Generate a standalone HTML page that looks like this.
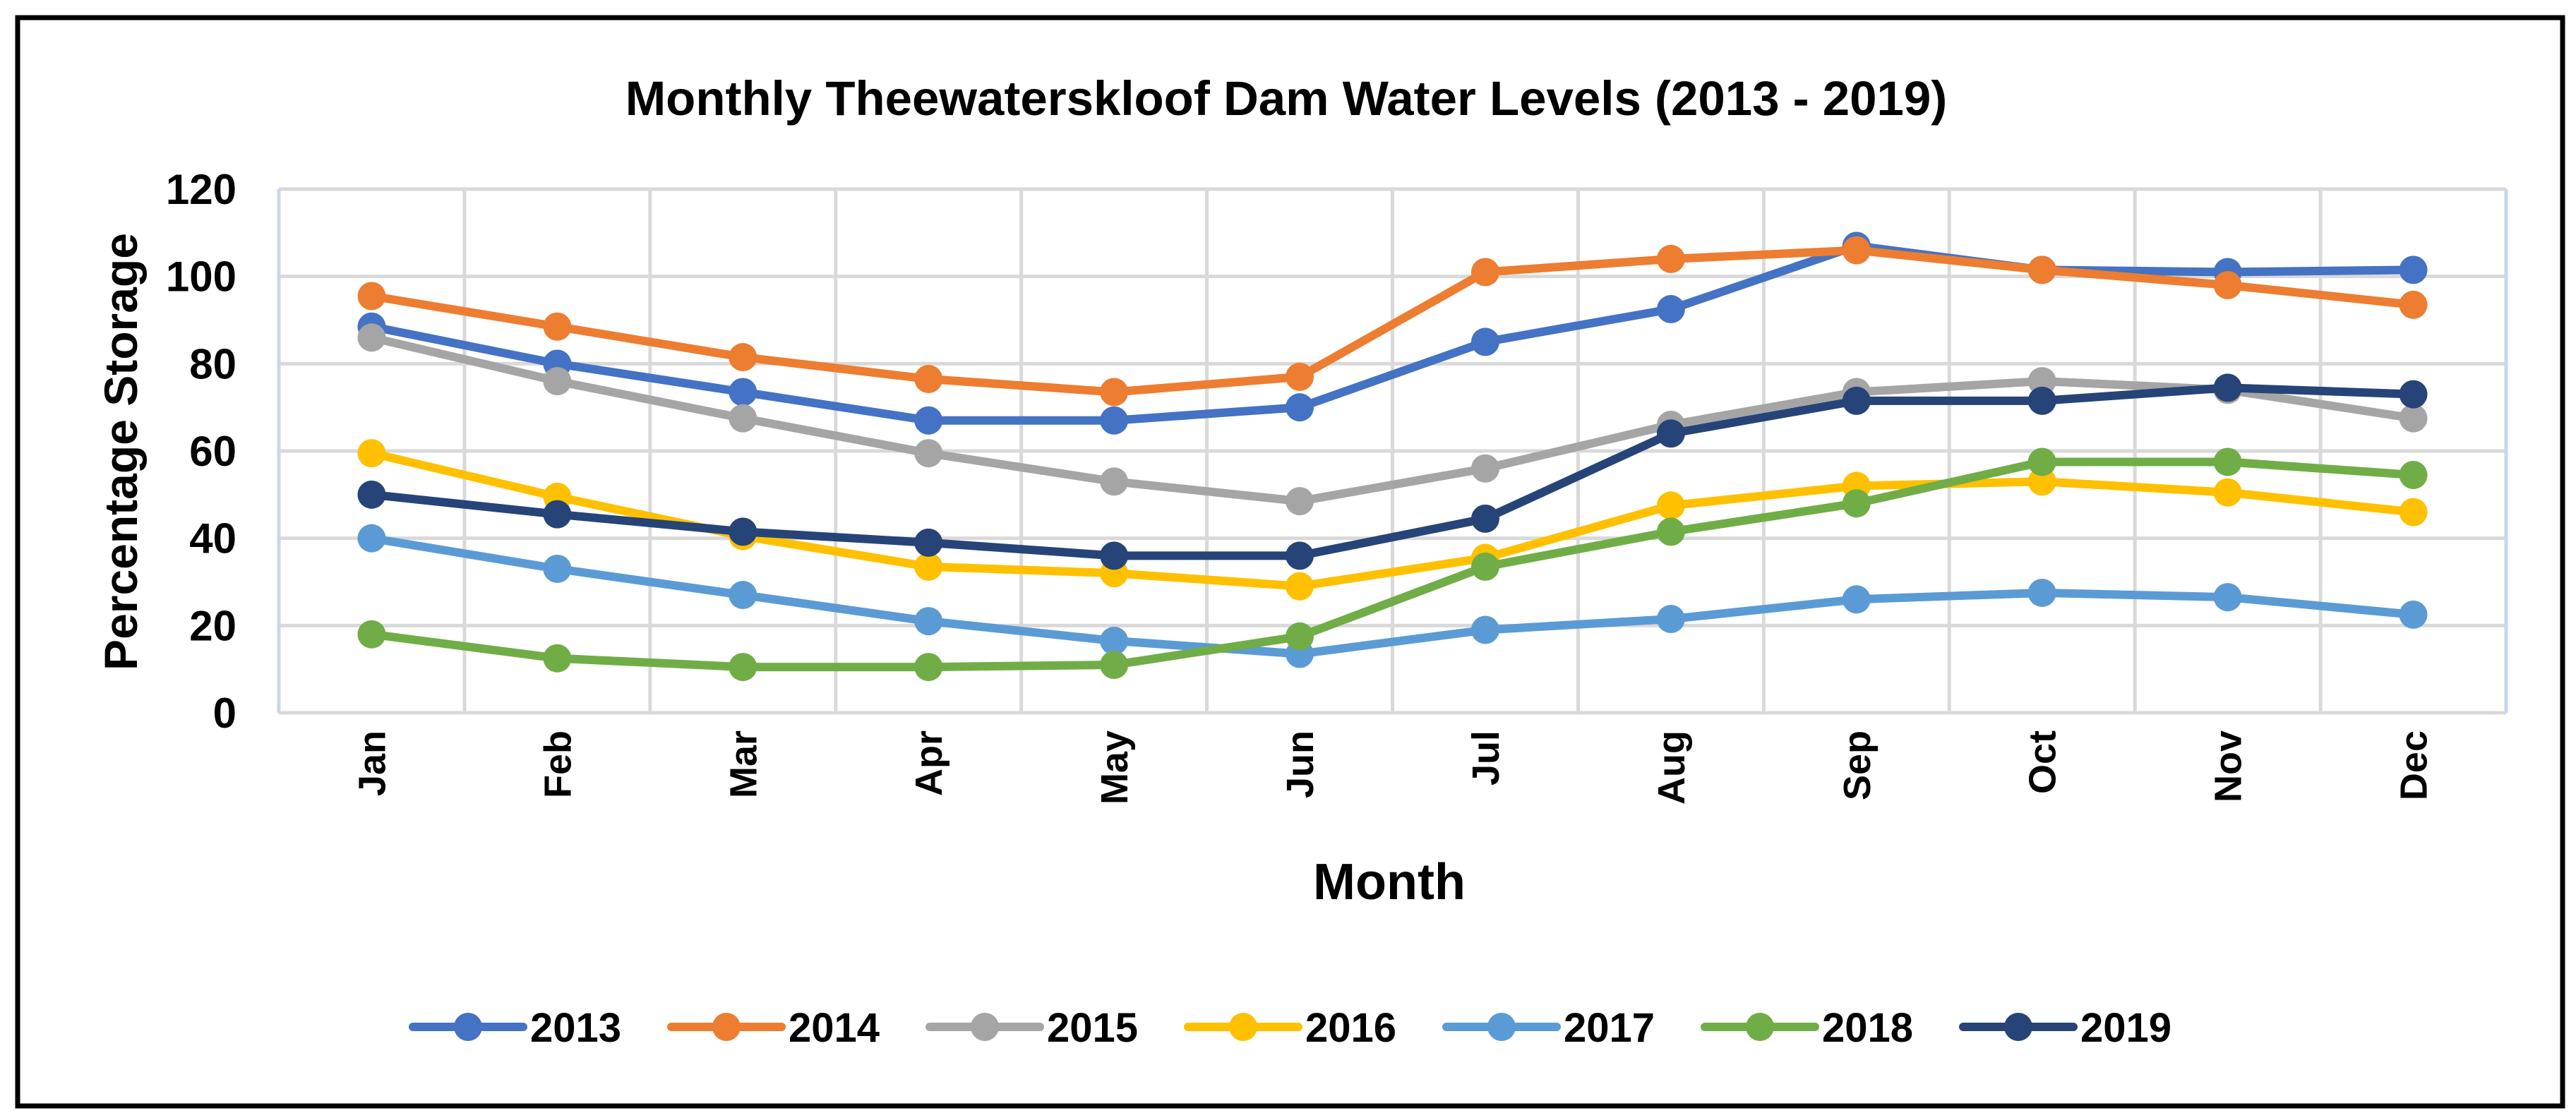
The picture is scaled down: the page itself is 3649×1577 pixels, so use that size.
<!DOCTYPE html>
<html><head><meta charset="utf-8"><style>
html,body{margin:0;padding:0;background:#fff;}
svg{display:block;font-family:"Liberation Sans",sans-serif;font-weight:bold;}
</style></head><body>
<svg width="3649" height="1577" viewBox="0 0 3649 1577">
<rect x="25" y="25" width="3605" height="1542" fill="#fff" stroke="#000" stroke-width="7"/>
<text x="1822" y="163" text-anchor="middle" font-size="69">Monthly Theewaterskloof Dam Water Levels (2013 - 2019)</text>
<text transform="translate(194,640) rotate(-90)" text-anchor="middle" font-size="66">Percentage Storage</text>
<text x="1968" y="1274" text-anchor="middle" font-size="72">Month</text>
<g id="grid"></g><g id="series"></g><g id="legend"></g>
</svg>
<script>
const months=["Jan","Feb","Mar","Apr","May","Jun","Jul","Aug","Sep","Oct","Nov","Dec"];
const yTicks=[0,20,40,60,80,100,120];
const years=["2013","2014","2015","2016","2017","2018","2019"];
const colors=["#4472c4","#ed7d31","#a5a5a5","#ffc000","#5b9bd5","#70ad47","#264478"];
const s2013=[88.5,80,73.5,67,67,70,85,92.5,107,101.5,101,101.5];
const s2014=[95.5,88.5,81.5,76.5,73.5,77,101,104,106,101.5,98,93.5];
const s2015=[86,76,67.5,59.5,53,48.5,56,66,73.5,76,74,67.5];
const s2016=[59.5,49.5,40.5,33.5,32,29,35.5,47.5,52,53,50.5,46];
const s2017=[40,33,27,21,16.5,13.5,19,21.5,26,27.5,26.5,22.5];
const s2018=[18,12.5,10.5,10.5,11,17.5,33.5,41.5,48,57.5,57.5,54.5];
const s2019=[50,45.5,41.5,39,36,36,44.5,64,71.5,71.5,74.5,73];
const series=[s2013,s2014,s2015,s2016,s2017,s2018,s2019];
const NS="http://www.w3.org/2000/svg";
const L=395,R=3550,T=268,B=1010;
const bw=(R-L)/months.length;
const xS=i=>L+bw*(i+0.5);
const yS=v=>B-(v/120)*(B-T);
function mk(tag,attrs,parent){const e=document.createElementNS(NS,tag);for(const k in attrs)e.setAttribute(k,attrs[k]);parent.appendChild(e);return e;}
const grid=document.getElementById('grid');
yTicks.forEach(t=>{
  const l=mk('line',{x1:L,x2:R,y1:yS(t),y2:yS(t),stroke:'#d9d9d9','stroke-width':5},grid);
  
  
  const tx=mk('text',{x:L-60,y:yS(t)+21,'text-anchor':'end','font-size':60},grid);
  tx.textContent=t;
  
  
});
for(let i=0;i<=months.length;i++){
  const x=L+bw*i;
  const l=mk('line',{x1:x,x2:x,y1:T,y2:B,stroke:i==0||i==months.length?'#c9d6ee':'#d9d9d9','stroke-width':5},grid);
  
  
}
months.forEach((m,i)=>{
  const tx=mk('text',{transform:`translate(${xS(i)+19},1035) rotate(-90)`,'text-anchor':'end','font-size':54},grid);
  tx.textContent=m;
  
  
});
const sg=document.getElementById('series');
series.forEach((d,k)=>{
  const g=mk('g',{},sg);
  
  
  const pl=mk('polyline',{points:d.map((v,i)=>xS(i)+','+yS(v)).join(' '),fill:'none',stroke:colors[k],'stroke-width':12,'stroke-linejoin':'round','stroke-linecap':'round'},g);
  
  
  d.forEach((v,i)=>{
    const c=mk('circle',{cx:xS(i),cy:yS(v),r:20,fill:colors[k]},g);
    
    
  });
});
const lg=document.getElementById('legend');
years.forEach((y,k)=>{
  const cx=663+366*k, cy=1455;
  const g=mk('g',{},lg);
  
  
  mk('line',{x1:cx-78,x2:cx+78,y1:cy,y2:cy,stroke:colors[k],'stroke-width':12,'stroke-linecap':'round'},g);
  mk('circle',{cx:cx,cy:cy,r:20,fill:colors[k]},g);
  const t=mk('text',{x:cx+88,y:cy+21,'font-size':58},g);
  t.textContent=y;
});
</script>
</body></html>
